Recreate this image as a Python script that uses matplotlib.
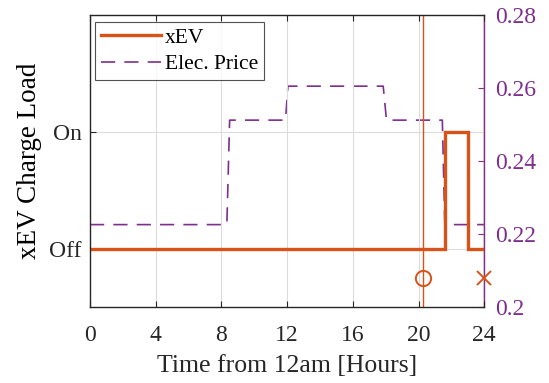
import matplotlib
matplotlib.use("Agg")
import matplotlib.pyplot as plt

# Charging schedule (On = 1, Off = 0) over the day
ev_hours = [0, 21.6, 21.6, 23.0, 23.0, 24]
ev_load = [0, 0, 1, 1, 0, 0]

# Electricity price profile ($/kWh)
price_hours = [0, 8.33, 8.5, 11.9, 12.05, 17.85, 18.05, 21.45, 21.6, 24]
price_vals = [0.2226, 0.2226, 0.2512, 0.2512, 0.2605, 0.2605, 0.2512, 0.2512, 0.2226, 0.2226]

# Plug-in / departure events
plug_in_hour = 20.25
depart_hour = 24.0
event_level = -0.25

x_ticks = [0, 4, 8, 12, 16, 20, 24]
load_ticks = [0, 1]
load_labels = ["Off", "On"]
price_ticks = [0.2, 0.22, 0.24, 0.26, 0.28]
price_labels = ["0.2", "0.22", "0.24", "0.26", "0.28"]

orange = "#D95319"
purple = "#7E2F8E"
dark = "#262626"

plt.rcParams["font.family"] = ["Liberation Serif", "DejaVu Serif"]

fig = plt.figure(figsize=(5.49, 3.83), dpi=100)
ax = fig.add_axes([0.164, 0.198, 0.718, 0.763])
ax2 = ax.twinx()

ax.set_zorder(2)
ax.patch.set_visible(False)

# price on the right axis
ax2.plot(price_hours, price_vals, color=purple, lw=1.2, dashes=(8.5, 5.5))
ax2.set_ylim(0.2, 0.28)
ax2.set_yticks(price_ticks)
ax2.set_yticklabels(price_labels)
ax2.tick_params(axis="y", colors=purple, labelsize=17, direction="in", length=4, pad=8)
for s in ["left", "top", "bottom"]:
    ax2.spines[s].set_visible(False)
ax2.spines["right"].set_color(purple)
ax2.spines["right"].set_linewidth(1.0)

# charging load on the left axis
line_ev, = ax.plot(ev_hours, ev_load, color=orange, lw=2.4, solid_joinstyle="miter")
ax.axvline(plug_in_hour, color=orange, lw=1.0)
ax.axvline(depart_hour, color=orange, lw=1.0)
ax.plot([plug_in_hour], [event_level], marker="o", ms=11, mfc="none", mec=orange, mew=1.4,
        ls="none", clip_on=False)
ax.plot([depart_hour], [event_level], marker="x", ms=10, color=orange, mew=1.4,
        ls="none", clip_on=False, zorder=5)

ax.set_xlim(0, 24)
ax.set_ylim(-0.5, 2)
ax.set_xticks(x_ticks)
ax.set_yticks(load_ticks)
ax.set_yticklabels(load_labels)
ax.grid(True, color="#dcdcdc", lw=0.8)
ax.set_axisbelow(True)
ax.tick_params(axis="both", labelsize=17, direction="in", length=4, colors=dark, top=True)
ax.tick_params(axis="x", pad=12.5)
ax.tick_params(axis="y", pad=6)
for s in ["left", "top", "bottom"]:
    ax.spines[s].set_color(dark)
    ax.spines[s].set_linewidth(1.0)
ax.spines["right"].set_visible(False)

ax.set_xlabel("Time from 12am [Hours]", fontsize=18.5, color=dark, labelpad=6.5)
ax.set_ylabel("xEV Charge Load", fontsize=19.5, color="black", labelpad=5)

price_handle = ax2.get_lines()[0]
leg = ax.legend([line_ev, price_handle], ["xEV", "Elec. Price"], loc="upper left",
                fontsize=15.5, frameon=True, fancybox=False, edgecolor=dark,
                handlelength=2.8, handletextpad=0.2, borderpad=0.25, labelspacing=0.3,
                bbox_to_anchor=(0.013, 0.975), borderaxespad=0.0)
leg.get_frame().set_linewidth(0.8)

fig.savefig("out.png", dpi=100)
